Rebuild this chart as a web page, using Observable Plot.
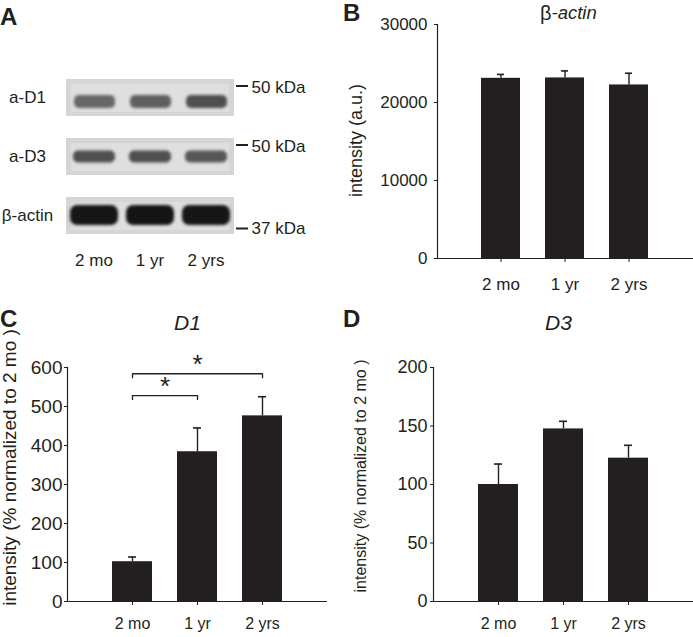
<!DOCTYPE html>
<html><head><meta charset="utf-8">
<script src="https://cdn.jsdelivr.net/npm/d3@7"></script>
<script src="https://cdn.jsdelivr.net/npm/@observablehq/plot@0.6"></script>
<style>
body{margin:0;background:#fff;}
#fig{position:relative;width:693px;height:637px;overflow:hidden;background:#fff;font-family:"Liberation Sans",Arial,Helvetica,sans-serif;color:#231f20;}
.panel{position:absolute;}
.letter{position:absolute;font-weight:bold;font-size:24px;line-height:1;}
</style></head><body><div id="fig"></div>
<script>
// ---- data ----
const ages = ["2 mo", "1 yr", "2 yrs"];
const actinMean = [23100, 23150, 22250];
const actinErr = [500, 900, 1500];
const actinTicks = [0, 10000, 20000, 30000];
const d1Mean = [102, 384, 476];
const d1Err = [12, 61, 49];
const d1Ticks = [0, 100, 200, 300, 400, 500, 600];
const d3Mean = [100, 147.5, 122.5];
const d3Err = [17.5, 6.5, 11];
const d3Ticks = [0, 50, 100, 150, 200];
const sigFrom = ["2 mo", "2 mo"];
const sigTo = ["1 yr", "2 yrs"];
const sigLevel = [528, 584];
const sigLabel = ["*", "*"];
const blotRows = ["a-D1", "a-D3", "β-actin"];
const blotD1 = [0.58, 0.62, 0.7];
const blotD3 = [0.7, 0.7, 0.66];
const blotActin = [0.98, 0.99, 0.98];
const markerLabels = ["50 kDa", "50 kDa", "37 kDa"];
const markerRows = ["a-D1", "a-D3", "β-actin"];
const markerSide = ["above", "above", "below"];

const INK = "#231f20";
const FONT = '"Liberation Sans", Arial, Helvetica, sans-serif';
const fig = document.getElementById("fig");

function place(node, left, top) {
  const d = document.createElement("div");
  d.className = "panel";
  d.style.left = left + "px"; d.style.top = top + "px";
  d.appendChild(node); fig.appendChild(d);
}
function letter(t, left, top) {
  const d = document.createElement("div");
  d.className = "letter"; d.textContent = t;
  d.style.left = left + "px"; d.style.top = top + "px";
  fig.appendChild(d);
}

// ---- Panel A: blot ----
const bandData = (vals, row) => ages.map((lane, i) => ({lane, row, intensity: vals[i]}));
const markers = markerLabels.map((label, i) => ({label, row: markerRows[i], side: markerSide[i]}));
const above = markers.filter(m => m.side === "above");
const below = markers.filter(m => m.side === "below");
const plotA = Plot.plot({
  width: 340, height: 300, marginLeft: 66, marginRight: 106, marginTop: 78, marginBottom: 65,
  style: {fontFamily: FONT, fontSize: "17px", color: INK, background: "transparent", overflow: "visible"},
  x: {domain: ages, type: "band", paddingInner: 0.16, paddingOuter: 0.08},
  y: {domain: blotRows, type: "band", paddingInner: 0.378, paddingOuter: 0, axis: null},
  color: {type: "linear", domain: [0, 1], range: ["#dcdcdc", "#121212"]},
  marks: [
    Plot.cell(blotRows, {y: d => d, fill: "#d5d5d5"}),
    Plot.cell(blotRows, {y: d => d, fill: "#dfdfdf", insetLeft: 5, insetRight: 5, insetTop: 5, insetBottom: 4}),
    Plot.cell(bandData(blotD1, "a-D1"), {x: "lane", y: "row", fill: "intensity", insetTop: 16, insetBottom: 8, insetLeft: 4, insetRight: 2, rx: 5}),
    Plot.cell(bandData(blotD3, "a-D3"), {x: "lane", y: "row", fill: "intensity", insetTop: 12.5, insetBottom: 12.5, insetLeft: 3, insetRight: 2, rx: 5}),
    Plot.cell(bandData(blotActin, "β-actin"), {x: "lane", y: "row", fill: "intensity", insetTop: 8, insetBottom: 9, insetLeft: 0, insetRight: -1, rx: 7}),
    Plot.text(blotRows, {y: d => d, text: d => d, frameAnchor: "left", dx: -39, textAnchor: "middle", fill: INK}),
    Plot.ruleY(above, {y: "row", insetLeft: 170, insetRight: -14, dy: -12, stroke: INK, strokeWidth: 2}),
    Plot.ruleY(below, {y: "row", insetLeft: 170, insetRight: -14, dy: 12.5, stroke: INK, strokeWidth: 2}),
    Plot.text(above, {y: "row", text: "label", frameAnchor: "right", textAnchor: "start", dx: 17, dy: -10.5, fill: INK}),
    Plot.text(below, {y: "row", text: "label", frameAnchor: "right", textAnchor: "start", dx: 17, dy: 12.8, fill: INK}),
    Plot.axisX({tickSize: 0, tickPadding: 18, label: null})
  ]
});
{
  const svg = d3.select(plotA.tagName.toLowerCase() === "svg" ? plotA : plotA.querySelector("svg"));
  // the three band layers are the 3rd–5th cell marks
  svg.selectAll('g[aria-label="cell"]').filter((d, i) => i >= 2).style("filter", "blur(1.8px)");
}
place(plotA, 0, 0);

// ---- bar panels ----
function barPanel(o) {
  const data = ages.map((age, i) => ({age, mean: o.means[i], top: o.means[i] + o.errs[i]}));
  return Plot.plot({
    width: o.width, height: o.height,
    marginLeft: o.marginLeft, marginRight: o.marginRight, marginTop: o.marginTop, marginBottom: o.marginBottom,
    style: {fontFamily: FONT, fontSize: "17px", color: INK, background: "transparent", overflow: "visible"},
    x: {domain: ages, type: "band", paddingInner: o.pi, paddingOuter: o.po},
    y: {domain: [o.ticks[0], o.ticks[o.ticks.length - 1]]},
    marks: [
      Plot.barY(data, {x: "age", y: "mean", fill: INK}),
      Plot.ruleX(data, {x: "age", y1: "mean", y2: "top", stroke: INK, strokeWidth: 1.4}),
      Plot.tickY(data, {x: "age", y: "top", stroke: INK, strokeWidth: 1.6, insetLeft: 16, insetRight: 16}),
      Plot.ruleY([o.ticks[0]], {stroke: INK, strokeWidth: 1.2}),
      Plot.frame({anchor: "left", stroke: INK, strokeWidth: 1.2}),
      Plot.axisY({ticks: o.ticks, tickSize: 3, tickPadding: o.padY, tickFormat: d => String(d), label: null, fontSize: o.yFont}),
      Plot.axisX({tickSize: 4, tickPadding: o.padX, label: null, fontSize: o.xFont}),
      Plot.text([o.ylabel], {text: d => d, frameAnchor: "left", rotate: -90, dx: o.labelDx, dy: o.labelDy, fontSize: o.labelFont, textAnchor: "middle", lineAnchor: "middle", fill: INK}),
      ...(o.marks || [])
    ]
  });
}

// Panel B
const plotB = barPanel({
  means: actinMean, errs: actinErr, ticks: actinTicks,
  width: 353, height: 300, marginLeft: 97, marginRight: 0, marginTop: 24, marginBottom: 42,
  pi: 0.383, po: 0.6915, padY: 7, padX: 15, yFont: 17, xFont: 17,
  ylabel: "intensity (a.u.)", labelDx: -81, labelDy: -1, labelFont: 18,
  marks: [
    Plot.text(["β"], {text: d => d, frameAnchor: "top", lineAnchor: "middle", textAnchor: "end", dx: -14, dy: -11, fontSize: 20, fill: INK}),
    Plot.text(["-actin"], {text: d => d, frameAnchor: "top", lineAnchor: "middle", textAnchor: "start", dx: -14, dy: -11, fontSize: 18.5, fontStyle: "italic", fill: INK})
  ]
});
place(plotB, 340, 0);

// Panel C
const sig = sigFrom.map((from, i) => ({from, to: sigTo[i], level: sigLevel[i], label: sigLabel[i]}));
const plotC = barPanel({
  means: d1Mean, errs: d1Err, ticks: d1Ticks,
  width: 340, height: 337, marginLeft: 67, marginRight: 13, marginTop: 67, marginBottom: 36,
  pi: 0.389, po: 0.6945, padY: 2, padX: 12, yFont: 19, xFont: 16,
  ylabel: "intensity (% normalized to 2 mo )", labelDx: -57.5, labelDy: -17, labelFont: 19,
  marks: [
    Plot.text(["D1"], {text: d => d, frameAnchor: "top", lineAnchor: "middle", dx: -10, dy: -44, fontSize: 21, fontStyle: "italic", fill: INK}),
    Plot.link(sig, {x1: "from", x2: "to", y1: "level", y2: "level", stroke: INK, strokeWidth: 1.3}),
    Plot.ruleX(sig, {x: "from", y1: "level", y2: "level", insetBottom: -5, stroke: INK, strokeWidth: 1.3}),
    Plot.ruleX(sig, {x: "to", y1: "level", y2: "level", insetBottom: -5, stroke: INK, strokeWidth: 1.3}),
    Plot.text(sig, {
      x: "from", y: "level", text: "label", dy: -9, fontSize: 26, fill: INK, lineAnchor: "middle",
      render(index, scales, values, dimensions, context, next) {
        const X = Float64Array.from(values.x, (x, i) => x + (scales.x(sig[i].to) - scales.x(sig[i].from)) / 2);
        return next(index, scales, {...values, x: X}, dimensions, context);
      }
    })
  ]
});
place(plotC, 0, 300);

// Panel D
const plotD = barPanel({
  means: d3Mean, errs: d3Err, ticks: d3Ticks,
  width: 350, height: 337, marginLeft: 90, marginRight: 0, marginTop: 67, marginBottom: 36,
  pi: 0.389, po: 0.6945, padY: 3, padX: 12, yFont: 18, xFont: 16,
  ylabel: "intensity (% normalized to 2 mo )", labelDx: -73, labelDy: -8.5, labelFont: 16,
  marks: [
    Plot.text(["D3"], {text: d => d, frameAnchor: "top", lineAnchor: "middle", dx: -5, dy: -44, fontSize: 21, fontStyle: "italic", fill: INK})
  ]
});
place(plotD, 343, 300);

letter("A", 0, 5);
letter("B", 343, 1);
letter("C", 0, 307);
letter("D", 343, 307);
</script></body></html>
